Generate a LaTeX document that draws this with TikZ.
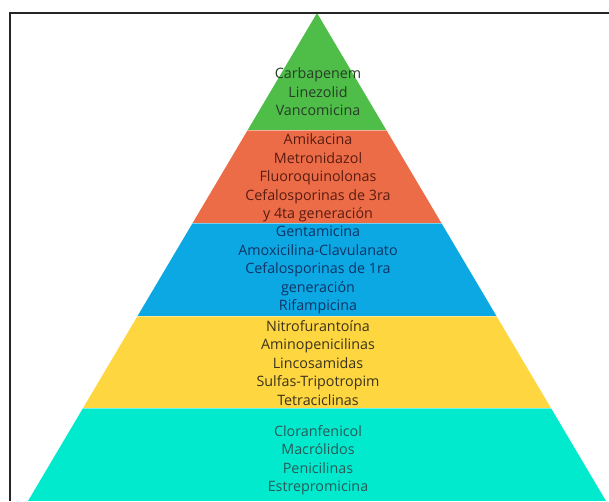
\documentclass[tikz,border=0pt]{standalone}
\usepackage{fontspec}
\setmainfont{Open Sans}
\definecolor{cgreen}{RGB}{78,190,72}
\definecolor{corange}{RGB}{236,108,72}
\definecolor{cblue}{RGB}{12,168,228}
\definecolor{cyellow}{RGB}{253,214,64}
\definecolor{cteal}{RGB}{2,234,206}
\definecolor{tgreen}{RGB}{40,60,40}
\definecolor{torange}{RGB}{90,28,16}
\definecolor{tblue}{RGB}{14,52,100}
\definecolor{tyellow}{RGB}{60,50,28}
\definecolor{tteal}{RGB}{40,90,88}
\begin{document}
\begin{tikzpicture}[x=1pt,y=-1pt,
  lbl/.style={align=center,font=\fontsize{14.3}{18.5}\selectfont,inner sep=0pt},
  sep/.style={white,opacity=0.45,line width=0.8pt}]
\useasboundingbox (0,0) rectangle (609,501);
\coordinate (apex) at (317,13);
\coordinate (bl) at (28,501);
\coordinate (br) at (606,501);
\begin{scope}
\clip (apex) -- (br) -- (bl) -- cycle;
\fill[cgreen] (0,0) rectangle (609,130);
\fill[corange] (0,130) rectangle (609,223);
\fill[cblue] (0,223) rectangle (609,316);
\fill[cyellow] (0,316) rectangle (609,408);
\fill[cteal] (0,408) rectangle (609,501);
\draw[sep] (0,130) -- (609,130);
\draw[sep] (0,223) -- (609,223);
\draw[sep] (0,316) -- (609,316);
\draw[sep] (0,408) -- (609,408);
\end{scope}
\draw[line width=1.8pt,black!85] (10,501) -- (10,13) -- (609,13);
\node[lbl,text=tgreen] (t1) at (318,92) {Carbapenem\\Linezolid\\Vancomicina};
\node[lbl,text=torange] (t2) at (318,178) {Amikacina\\Metronidazol\\Fluoroquinolonas\\Cefalosporinas de 3ra\\y 4ta generación};
\node[lbl,text=tblue] (t3) at (318,270) {Gentamicina\\Amoxicilina-Clavulanato\\Cefalosporinas de 1ra\\generación\\Rifampicina};
\node[lbl,text=tyellow] (t4) at (318,363) {Nitrofurantoína\\Aminopenicilinas\\Lincosamidas\\Sulfas-Tripotropim\\Tetraciclinas};
\node[lbl,text=tteal] (t5) at (318,460) {Cloranfenicol\\Macrólidos\\Penicilinas\\Estrepromicina};
\end{tikzpicture}
\end{document}
